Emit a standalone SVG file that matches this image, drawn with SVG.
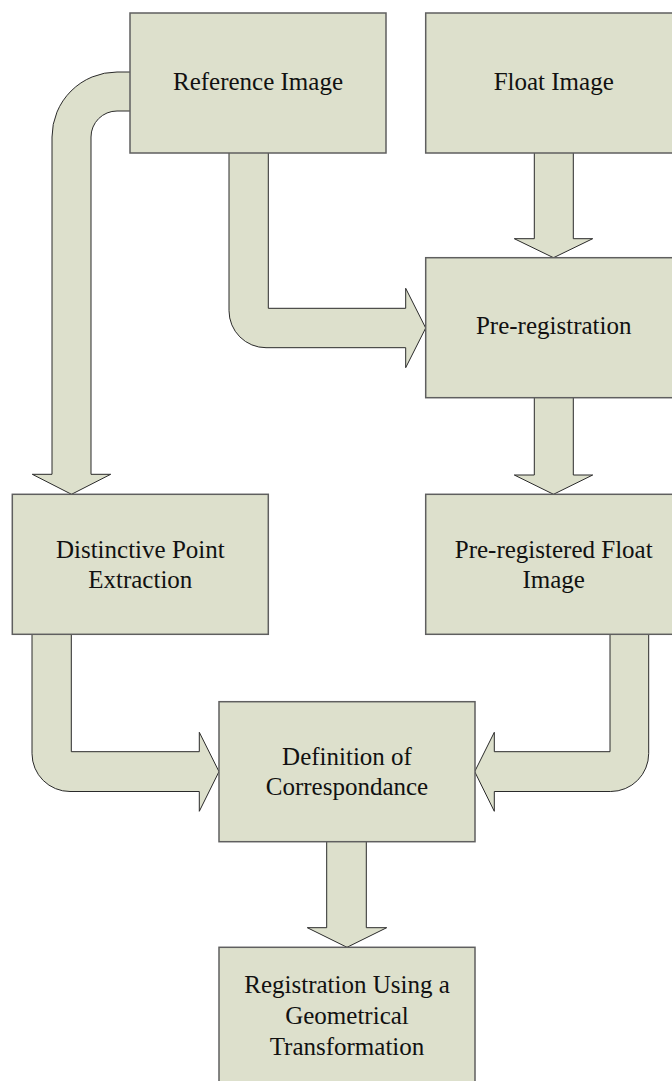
<svg xmlns="http://www.w3.org/2000/svg" width="672" height="1081" viewBox="0 0 672 1081">
<style>
.box{fill:#dde0cc;stroke:#5f5f5f;stroke-width:1.5}
.arr{fill:#dde0cc;stroke:#2a2a2a;stroke-width:1;stroke-linejoin:miter}
.lbl{font-family:"Liberation Serif","Times New Roman",serif;font-size:25px;fill:#111;text-anchor:middle}
</style>
<rect width="672" height="1081" fill="#ffffff"/>
<g id="connectors">
<path class="arr" d="M 131 72 L 117 72 A 65 65 0 0 0 52 137 L 52 474.3 L 32.3 474.3 L 71.5 494.3 L 110.7 474.3 L 91 474.3 L 91 137 A 26 26 0 0 1 117 111 L 131 111 Z"/>
<path class="arr" d="M 229 152 L 229 310.7 A 37 37 0 0 0 266 347.7 L 405.7 347.7 L 405.7 367.7 L 425.7 328 L 405.7 288.3 L 405.7 308.3 L 268.3 308.3 L 268.3 152 Z"/>
<path class="arr" d="M 534.3 152 L 534.3 238.7 L 514.3 238.7 L 553.5 257.7 L 592.7 238.7 L 573.3 238.7 L 573.3 152 Z"/>
<path class="arr" d="M 534.3 397 L 534.3 475 L 514.3 475 L 553.5 494.3 L 592.7 475 L 573.3 475 L 573.3 397 Z"/>
<path class="arr" d="M 32 633 L 32 753.7 A 38 38 0 0 0 70 791.5 L 199.3 791.5 L 199.3 811.3 L 219 771.6 L 199.3 732.3 L 199.3 751.7 L 71.3 751.7 L 71.3 633 Z"/>
<path class="arr" d="M 648.7 633 L 648.7 753.5 A 38 38 0 0 1 610.7 791.5 L 494.3 791.5 L 494.3 811.3 L 474.7 771.6 L 494.3 732.3 L 494.3 751.7 L 610 751.7 L 610 633 Z"/>
<path class="arr" d="M 326.7 841 L 326.7 927.7 L 307.3 927.7 L 347 947.3 L 386.7 927.7 L 366.3 927.7 L 366.3 841 Z"/>
</g>
<g id="reference-image">
<rect class="box" x="130" y="13" width="256" height="140"/>
<text class="lbl" x="258" y="89.5">Reference Image</text>
</g>
<g id="float-image">
<rect class="box" x="425.7" y="13" width="256" height="140"/>
<text class="lbl" x="553.7" y="89.5">Float Image</text>
</g>
<g id="pre-registration">
<rect class="box" x="425.7" y="257.7" width="256" height="140"/>
<text class="lbl" x="553.7" y="334">Pre-registration</text>
</g>
<g id="distinctive-point-extraction">
<rect class="box" x="12.3" y="494.3" width="256" height="140"/>
<text class="lbl" x="140.3" y="558">Distinctive Point</text>
<text class="lbl" x="140.3" y="588">Extraction</text>
</g>
<g id="pre-registered-float-image">
<rect class="box" x="425.7" y="494.3" width="256" height="140"/>
<text class="lbl" x="553.7" y="558">Pre-registered Float</text>
<text class="lbl" x="553.7" y="588">Image</text>
</g>
<g id="definition-of-correspondance">
<rect class="box" x="219" y="701.7" width="256" height="140"/>
<text class="lbl" x="347" y="765">Definition of</text>
<text class="lbl" x="347" y="795">Correspondance</text>
</g>
<g id="registration">
<rect class="box" x="219" y="947.3" width="256" height="140"/>
<text class="lbl" x="347" y="993">Registration Using a</text>
<text class="lbl" x="347" y="1024">Geometrical</text>
<text class="lbl" x="347" y="1055">Transformation</text>
</g>
</svg>
